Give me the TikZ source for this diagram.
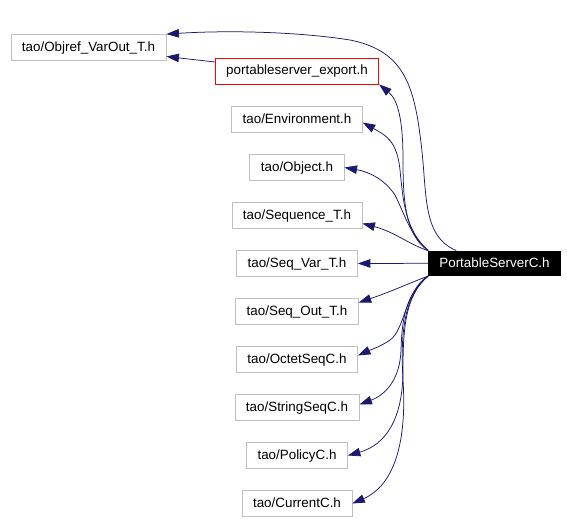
\documentclass[tikz,border=0pt]{standalone}
\usepackage{fontspec}
\setmainfont{Liberation Sans}
\usetikzlibrary{arrows.meta}
\definecolor{grey75}{HTML}{BFBFBF}
\definecolor{midnightblue}{HTML}{191970}
\begin{document}
\begin{tikzpicture}[x=1pt,y=-1pt]
        \tikzstyle{every node}=[font=\fontsize{13.4}{16}\selectfont, inner xsep=11pt, inner ysep=0pt, text height=9.6pt, text depth=2pt, minimum height=26pt]
        \tikzstyle{file}=[draw=grey75, line width=0.8pt]
        \tikzstyle{inc}=[draw=midnightblue, line width=0.75pt, -{Triangle[length=12.5pt,width=8.5pt]}]
        \useasboundingbox[fill=white] (0,0) rectangle (567,522);
        \node[file] (objref) at (88.5,47.5) {tao/Objref\_VarOut\_T.h};
        \node[file, draw=red] (export) at (297,71) {portableserver\_export.h};
        \node[file] (env) at (297,119.5) {tao/Environment.h};
        \node[file] (obj) at (297,167.5) {tao/Object.h};
        \node[file] (seqt) at (297,215.5) {tao/Sequence\_T.h};
        \node[file] (seqvar) at (297,263.5) {tao/Seq\_Var\_T.h};
        \node[file] (seqout) at (297,311.5) {tao/Seq\_Out\_T.h};
        \node[file] (octet) at (297,359.5) {tao/OctetSeqC.h};
        \node[file] (string) at (297,407.5) {tao/StringSeqC.h};
        \node[file] (policy) at (297,455.5) {tao/PolicyC.h};
        \node[file] (current) at (297,503.5) {tao/CurrentC.h};
        \node[fill=black, text=white, minimum height=25pt] (psc) at (494.5,263.3) {PortableServerC.h};
        % edges to the left column
        \draw[inc] ([xshift=28pt]psc.north west) .. controls (420,235) and (428,190) .. (420,135)
            .. controls (413,80) and (400,50) .. (350,40) .. controls (300,32) and (230,30) .. (objref.north east);
        \draw[inc] ([yshift=9pt]export.west) -- ([yshift=-9pt]objref.east);
        \draw[inc] (psc.north west) .. controls (405,235) and (403,200) .. (403,160)
            .. controls (403,120) and (398,100) .. (export.south east);
        \draw[inc] (psc.north west) .. controls (405,230) and (403,200) .. (400,170)
            .. controls (397,140) and (385,135) .. ([yshift=-3pt]env.east);
        \draw[inc] (psc.north west) .. controls (410,235) and (405,215) .. (395,195)
            .. controls (385,180) and (370,172) .. (obj.east);
        \draw[inc] (psc.north west) .. controls (410,245) and (395,232) .. ([yshift=-8pt]seqt.east);
        \draw[inc] (psc.west) -- (seqvar.east);
        \draw[inc] (psc.south west) .. controls (405,285) and (390,292) .. ([yshift=9pt]seqout.east);
        \draw[inc] (psc.south west) .. controls (405,290) and (405,330) .. (390,340)
            .. controls (380,347) and (370,350) .. ([yshift=4pt]octet.east);
        \draw[inc] (psc.south west) .. controls (405,295) and (402,320) .. (401,350)
            .. controls (400,380) and (385,395) .. ([yshift=3pt]string.east);
        \draw[inc] (psc.south west) .. controls (405,295) and (403,330) .. (403,370)
            .. controls (403,420) and (385,445) .. (policy.east);
        \draw[inc] (psc.south west) .. controls (405,295) and (400,330) .. (403,380)
            .. controls (407,440) and (395,485) .. (current.east);
    \end{tikzpicture}
\end{document}
